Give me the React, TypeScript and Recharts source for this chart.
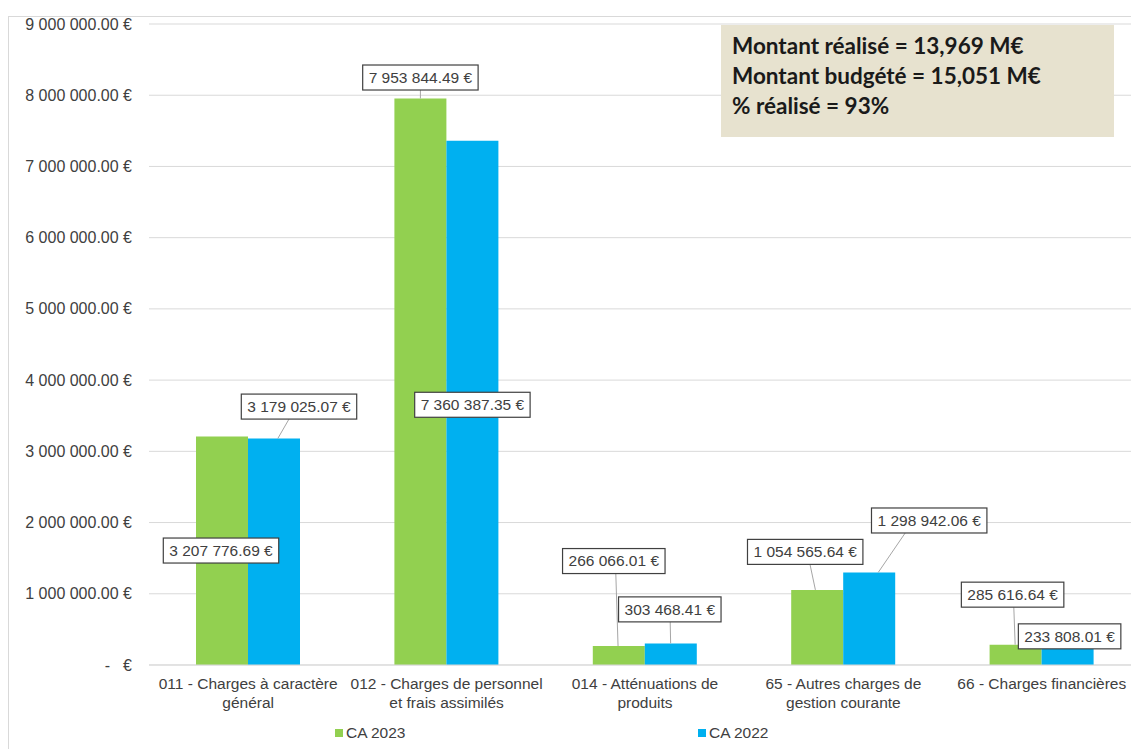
import React from "react";
import { BarChart, Bar, XAxis, YAxis, CartesianGrid, Legend, LabelList } from "recharts";

const categories = [
  "011 - Charges à caractère\ngénéral",
  "012 - Charges de personnel\net frais assimilés",
  "014 - Atténuations de\nproduits",
  "65 - Autres charges de\ngestion courante",
  "66 - Charges financières",
];
const ca2023 = [3207776.69, 7953844.49, 266066.01, 1054565.64, 285616.64];
const ca2022 = [3179025.07, 7360387.35, 303468.41, 1298942.06, 233808.01];
const yTicks = [0, 1000000, 2000000, 3000000, 4000000, 5000000, 6000000, 7000000, 8000000, 9000000];
const summaryLines = [
  "Montant réalisé = 13,969 M€",
  "Montant budgété = 15,051 M€",
  "% réalisé = 93%",
];

// where each value box sits, relative to the top centre of its bar
const labelShift2023: [number, number][] = [[-1, 114], [0, -21], [-5, -85], [-12, -38], [-3, -50]];
const labelShift2022: [number, number][] = [[25, -32], [0, 264], [-1, -34], [60, -52], [2, -12]];

const GREEN = "#92D050";
const BLUE = "#00B0F0";
const GRID = "#d9d9d9";
const TEXT = "#404040";
const FONT = "'Liberation Sans', Arial, sans-serif";
const LABEL_SIZE = 15.5;

const rows = categories.map((name, i) => ({ name, ca2023: ca2023[i], ca2022: ca2022[i] }));

const euro = (v: number) => {
  const [int, dec] = v.toFixed(2).split(".");
  return `${int.replace(/\B(?=(\d{3})+(?!\d))/g, " ")}.${dec} €`;
};

const textWidth = (s: string, size: number) =>
  s.split("").reduce((w, c) => w + (c === " " || c === "." ? 0.278 : 0.556), 0) * size;

const YTick = (props: any) => {
  const { x, y, payload } = props;
  if (payload.value === 0) {
    return (
      <g fontFamily={FONT} fontSize={16} fill={TEXT}>
        <text x={x - 22} y={y} dy="0.35em" textAnchor="end">-</text>
        <text x={x} y={y} dy="0.35em" textAnchor="end">€</text>
      </g>
    );
  }
  return (
    <text x={x} y={y} dy="0.35em" textAnchor="end" fontFamily={FONT} fontSize={16} fill={TEXT}>
      {euro(payload.value)}
    </text>
  );
};

const XTick = (props: any) => {
  const { x, y, payload } = props;
  const lines = String(payload.value).split("\n");
  return (
    <text x={x} y={y} textAnchor="middle" fontFamily={FONT} fontSize={15.5} fill={TEXT}>
      {lines.map((l, i) => (
        <tspan key={i} x={x} dy={i === 0 ? 23.5 : 19}>
          {l}
        </tspan>
      ))}
    </text>
  );
};

const makeValueBox = (shifts: [number, number][]) => (props: any) => {
  const { x, y, width, value, index } = props;
  const [dx, dy] = shifts[index];
  const barCx = x + width / 2;
  const cx = barCx + dx;
  const cy = y + dy;
  const text = euro(value);
  const w = textWidth(text, LABEL_SIZE) + 12;
  const h = 25;
  const top = cy - h / 2;
  const bottom = cy + h / 2;
  const hasLeader = bottom < y - 3;
  let sx = cx + (barCx - cx) * 0.4;
  sx = Math.max(cx - w / 2 + 4, Math.min(cx + w / 2 - 4, sx));
  const ex = barCx + (cx - barCx) * 0.15;
  return (
    <g>
      {hasLeader && <line x1={sx} y1={bottom} x2={ex} y2={y} stroke="#a6a6a6" strokeWidth={1} />}
      <rect x={cx - w / 2} y={top} width={w} height={h} fill="#fff" stroke="#404040" strokeWidth={1.2} />
      <text x={cx} y={cy} dy="0.35em" textAnchor="middle" fontFamily={FONT} fontSize={LABEL_SIZE} fill={TEXT}>
        {text}
      </text>
    </g>
  );
};

const legendItems = [
  { name: "CA 2023", color: GREEN },
  { name: "CA 2022", color: BLUE },
];

const renderLegend = () => (
  <div style={{ display: "flex", paddingLeft: 335, fontFamily: FONT, fontSize: 15.5, color: TEXT }}>
    {legendItems.map((item) => (
      <div key={item.name} style={{ width: 363, display: "flex", alignItems: "center", lineHeight: "18px" }}>
        <span style={{ width: 8, height: 8, background: item.color, marginRight: 3, display: "inline-block" }} />
        <span>{item.name}</span>
      </div>
    ))}
  </div>
);

export default function App() {
  return (
    <div style={{ position: "fixed", left: 0, top: 0, width: 1131, height: 749, overflow: "hidden", background: "#fff" }}>
      <div
        style={{
          position: "absolute",
          left: 8,
          top: 16,
          width: 1200,
          height: 800,
          border: `1px solid ${GRID}`,
        }}
      />
      <div style={{ position: "absolute", left: 0, top: 0 }}>
        <BarChart
          width={1160}
          height={749}
          data={rows}
          margin={{ top: 24, right: 19, bottom: 0, left: 0 }}
          barGap={0}
          barSize={52}
        >
          <CartesianGrid vertical={false} stroke={GRID} />
          <XAxis
            dataKey="name"
            interval={0}
            tickLine={false}
            axisLine={{ stroke: GRID }}
            tickSize={0}
            tickMargin={0}
            tick={<XTick />}
            height={84}
          />
          <YAxis
            width={149}
            domain={[0, 9000000]}
            ticks={yTicks}
            interval={0}
            tickLine={false}
            axisLine={false}
            tickSize={0}
            tickMargin={17}
            tick={<YTick />}
          />
          <Legend
            content={renderLegend}
            wrapperStyle={{ position: "absolute", left: 0, top: 724, width: 1160, height: 0, overflow: "visible" }}
          />
          <Bar dataKey="ca2023" name="CA 2023" fill={GREEN} isAnimationActive={false}>
            <LabelList dataKey="ca2023" content={makeValueBox(labelShift2023)} />
          </Bar>
          <Bar dataKey="ca2022" name="CA 2022" fill={BLUE} isAnimationActive={false}>
            <LabelList dataKey="ca2022" content={makeValueBox(labelShift2022)} />
          </Bar>
        </BarChart>
      </div>
      <div
        style={{
          position: "absolute",
          left: 721,
          top: 25,
          width: 393,
          height: 112,
          background: "#e7e2cf",
          boxSizing: "border-box",
          padding: "6px 0 0 11px",
          fontFamily: "Lato, 'Open Sans', sans-serif",
          fontWeight: 700,
          fontSize: 22.5,
          lineHeight: "30px",
          color: "#1a1a1a",
        }}
      >
        {summaryLines.map((l) => (
          <div key={l}>{l}</div>
        ))}
      </div>
    </div>
  );
}
